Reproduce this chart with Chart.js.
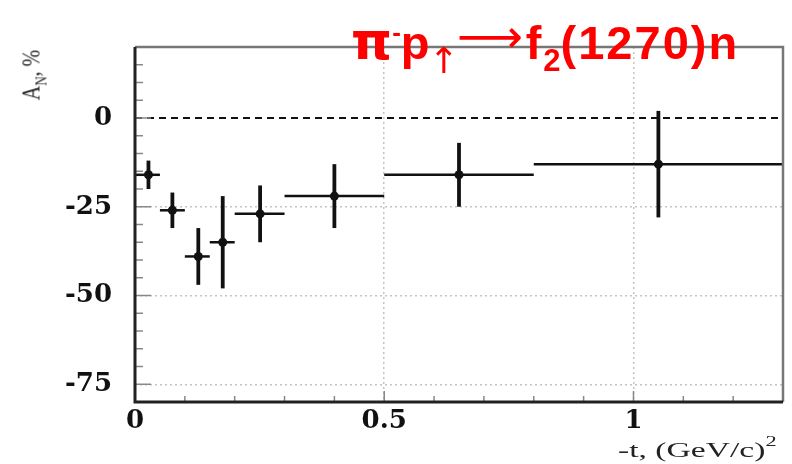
<!DOCTYPE html>
<html>
<head>
<meta charset="utf-8">
<script src="https://cdn.jsdelivr.net/npm/chart.js@4/dist/chart.umd.min.js"></script>
<style>
  html, body { margin: 0; padding: 0; background: #fff; }
  #wrap { position: relative; width: 792px; height: 464px; overflow: hidden; }
  #plot { position: absolute; left: 0; top: 0; }
  .reaction {
    position: absolute; left: 351px; top: 11px;
    font: bold 47px "Liberation Sans", Arial, sans-serif;
    color: #ff0000; line-height: 46px; white-space: nowrap; letter-spacing: 2px;
  }
  .reaction .pi { font: bold 52px "DejaVu Sans", sans-serif; letter-spacing: 0; }
  .reaction .sup { font-size: 26px; position: relative; top: -18px; letter-spacing: 0; }
  .reaction .spin { font: 400 36px "DejaVu Sans", sans-serif; position: relative; top: 14px; letter-spacing: 0; margin-left: -3px; }
  .reaction .arrow { font: 400 46px "DejaVu Sans", sans-serif; position: relative; top: -7px; letter-spacing: 0; margin-left: -2px; margin-right: 3px; }
  .reaction .sub { font-size: 31px; position: relative; top: 12px; letter-spacing: 0; }
  .ylab {
    position: absolute; left: 36px; top: 75px;
    font: 20px "Liberation Serif", serif; color: #222; white-space: nowrap; line-height: 20px;
    transform: translate(-50%, -50%) rotate(-90deg) scaleY(1.3);
  }
  .ylab sub { font-size: 13px; }
  .xlab {
    position: absolute; left: 618px; top: 434px;
    font: 21px "Liberation Serif", serif; color: #222; white-space: nowrap; line-height: 21px;
    transform: scaleX(1.6); transform-origin: left center;
  }
  .xlab sup { font-size: 14px; position: relative; top: -3px; }
</style>
</head>
<body>
<div id="wrap">
  <canvas id="plot" width="792" height="464"></canvas>
  <div class="reaction"><span class="pi">π</span><span class="sup">-</span><span>p</span><span class="spin">↑</span><span class="arrow">⟶</span><span>f</span><span class="sub">2</span><span>(1270)n</span></div>
  <div class="ylab">A<sub>N</sub>, %</div>
  <div class="xlab">-t, (GeV/c)<sup>2</sup></div>
</div>
<script>
// A_N vs -t for pi- p(up) -> f2(1270) n

const tCenter = [0.027, 0.075, 0.127, 0.176, 0.251, 0.40, 0.65, 1.05];
const tLow = [0, 0.05, 0.10, 0.15, 0.20, 0.30, 0.50, 0.80];
const tHigh = [0.05, 0.10, 0.15, 0.20, 0.30, 0.50, 0.80, 1.30];
const asymmetry = [-16, -26, -39, -35, -27, -22, -16, -13];
const asymErr = [4, 5, 8, 13, 8, 9, 9, 15];

const yTickLabels = [0, -25, -50, -75];
const xTickLabels = [0, 0.5, 1];

const isLabelled = (list, v) => list.some(l => Math.abs(l - v) < 1e-6);
const isYMajor = v => Math.abs(v / 25 - Math.round(v / 25)) < 1e-6;
const isXMajor = v => Math.abs(v * 2 - Math.round(v * 2)) < 1e-6;

// error bars: bin width along x, stat error along y
const errorBars = {
  id: 'errorBars',
  beforeDatasetsDraw(chart) {
    const { ctx, scales: { x, y } } = chart;
    ctx.save();
    ctx.strokeStyle = '#111';
    ctx.lineCap = 'butt';
    tCenter.forEach((t, i) => {
      const py = y.getPixelForValue(asymmetry[i]);
      ctx.lineWidth = 2.5;
      ctx.beginPath();
      ctx.moveTo(x.getPixelForValue(tLow[i]), py);
      ctx.lineTo(x.getPixelForValue(tHigh[i]), py);
      ctx.stroke();
      const px = x.getPixelForValue(t);
      ctx.lineWidth = 3.8;
      ctx.beginPath();
      ctx.moveTo(px, y.getPixelForValue(asymmetry[i] + asymErr[i]));
      ctx.lineTo(px, y.getPixelForValue(asymmetry[i] - asymErr[i]));
      ctx.stroke();
    });
    ctx.restore();
  }
};

// frame, inner ticks and the dashed zero line
const frame = {
  id: 'frame',
  afterDatasetsDraw(chart) {
    const { ctx, chartArea: a, scales: { x, y } } = chart;
    ctx.save();

    const y0 = y.getPixelForValue(0);
    ctx.strokeStyle = '#111';
    ctx.lineWidth = 2;
    ctx.setLineDash([7, 5]);
    ctx.beginPath();
    ctx.moveTo(a.left, y0);
    ctx.lineTo(a.right, y0);
    ctx.stroke();
    ctx.setLineDash([]);

    ctx.strokeStyle = '#888';
    ctx.lineWidth = 1.5;
    y.ticks.forEach(tk => {
      const py = y.getPixelForValue(tk.value);
      const len = isYMajor(tk.value) ? 16 : 8;
      ctx.beginPath();
      ctx.moveTo(a.left, py);
      ctx.lineTo(a.left + len, py);
      ctx.stroke();
    });
    x.ticks.forEach(tk => {
      const px = x.getPixelForValue(tk.value);
      const len = isXMajor(tk.value) ? 11 : 6;
      ctx.beginPath();
      ctx.moveTo(px, a.bottom);
      ctx.lineTo(px, a.bottom - len);
      ctx.stroke();
    });

    ctx.strokeStyle = '#777';
    ctx.lineWidth = 2.5;
    ctx.beginPath();
    ctx.moveTo(a.left, a.top);
    ctx.lineTo(a.right, a.top);
    ctx.lineTo(a.right, a.bottom);
    ctx.stroke();

    ctx.strokeStyle = '#222';
    ctx.lineWidth = 3;
    ctx.beginPath();
    ctx.moveTo(a.left, a.top);
    ctx.lineTo(a.left, a.bottom);
    ctx.lineTo(a.right, a.bottom);
    ctx.stroke();

    ctx.restore();
  }
};

const tickFont = { family: '"DejaVu Serif", serif', weight: 'bold', size: 26 };

new Chart(document.getElementById('plot'), {
  type: 'scatter',
  data: {
    datasets: [{
      data: tCenter.map((t, i) => ({ x: t, y: asymmetry[i] })),
      pointRadius: 4.5,
      pointBorderWidth: 0,
      backgroundColor: '#111',
      borderColor: '#111'
    }]
  },
  options: {
    responsive: false,
    animation: false,
    devicePixelRatio: 1,
    layout: { padding: { top: 47, right: 9, left: 0, bottom: 0 } },
    plugins: { legend: { display: false }, tooltip: { enabled: false } },
    scales: {
      x: {
        type: 'linear',
        min: 0,
        max: 1.3,
        afterFit: s => { s.height = 62; },
        ticks: {
          stepSize: 0.1,
          autoSkip: false,
          maxRotation: 0,
          padding: 4,
          color: '#111',
          font: tickFont,
          callback: v => isLabelled(xTickLabels, v) ? String(Math.round(v * 10) / 10) : ''
        },
        grid: {
          drawTicks: false,
          lineWidth: 1.5,
          color: c => (c.tick && c.tick.value > 0 && isXMajor(c.tick.value)) ? '#c4c4c4' : 'rgba(0,0,0,0)'
        },
        border: { display: false, dash: [2, 3] }
      },
      y: {
        min: -80,
        max: 20,
        afterFit: s => { s.width = 135; },
        ticks: {
          stepSize: 5,
          autoSkip: false,
          padding: 23,
          color: '#111',
          font: tickFont,
          callback: v => isLabelled(yTickLabels, v) ? String(v) : ''
        },
        grid: {
          drawTicks: false,
          lineWidth: 1.5,
          color: c => (c.tick && c.tick.value < 0 && isYMajor(c.tick.value)) ? '#c4c4c4' : 'rgba(0,0,0,0)'
        },
        border: { display: false, dash: [2, 3] }
      }
    }
  },
  plugins: [errorBars, frame]
});
</script>
</body>
</html>
